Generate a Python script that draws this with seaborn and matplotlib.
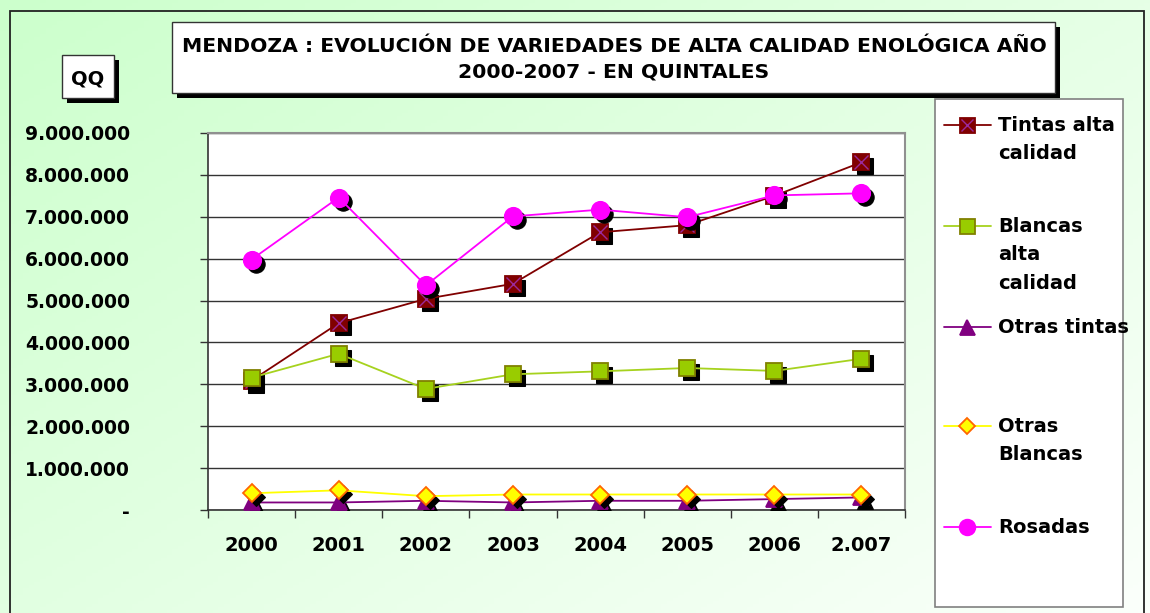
import numpy as np
import pandas as pd
import matplotlib
matplotlib.use("Agg")
import matplotlib.pyplot as plt
import matplotlib.transforms as mtransforms
from matplotlib.patches import Rectangle
from matplotlib.ticker import FuncFormatter
import seaborn as sns

# ---------------- data ----------------
years = ["2000", "2001", "2002", "2003", "2004", "2005", "2006", "2.007"]
tintas_alta = [3090000, 4460000, 5040000, 5400000, 6630000, 6800000, 7500000, 8300000]
blancas_alta = [3160000, 3730000, 2890000, 3240000, 3310000, 3390000, 3320000, 3610000]
otras_tintas = [180000, 180000, 220000, 180000, 220000, 220000, 260000, 300000]
otras_blancas = [400000, 470000, 330000, 370000, 370000, 370000, 370000, 370000]
rosadas = [5980000, 7460000, 5360000, 7010000, 7170000, 6990000, 7510000, 7560000]

series_names = ["Tintas alta calidad", "Blancas alta calidad", "Otras tintas",
                "Otras Blancas", "Rosadas"]
legend_lines = [["Tintas alta", "calidad"], ["Blancas", "alta", "calidad"],
                ["Otras tintas"], ["Otras", "Blancas"], ["Rosadas"]]
y_ticks = [0, 1000000, 2000000, 3000000, 4000000, 5000000, 6000000, 7000000, 8000000, 9000000]
title_text = "MENDOZA : EVOLUCIÓN DE VARIEDADES DE ALTA CALIDAD ENOLÓGICA AÑO\n2000-2007 - EN QUINTALES"
unit_text = "QQ"

df = pd.DataFrame({"Año": years,
                   series_names[0]: tintas_alta,
                   series_names[1]: blancas_alta,
                   series_names[2]: otras_tintas,
                   series_names[3]: otras_blancas,
                   series_names[4]: rosadas})

styles = {
    series_names[0]: dict(color="#800000", marker="s", ms=12, mfc="#800000", mec="#800000"),
    series_names[1]: dict(color="#A6D21E", marker="s", ms=12, mfc="#99CC00", mec="#808000"),
    series_names[2]: dict(color="#800080", marker="^", ms=12, mfc="#800080", mec="#800080"),
    series_names[3]: dict(color="#FFFF00", marker="D", ms=9.5, mfc="#FFFF00", mec="#FF6600"),
    series_names[4]: dict(color="#FF00FF", marker="o", ms=12.5, mfc="#FF00FF", mec="#FF00FF"),
}

# ---------------- figure ----------------
sns.set_theme(style="white")
plt.rcParams["font.family"] = ["DejaVu Sans"]
plt.rcParams["text.color"] = "black"
W, H = 1150, 613
fig = plt.figure(figsize=(W / 100, H / 100), dpi=100)

def fx(px):
    return px / W

def fy(py):
    return 1 - py / H

# background gradient
bg = fig.add_axes([0, 0, 1, 1], zorder=-10)
gx, gy = np.meshgrid(np.linspace(0, 1, 200), np.linspace(0, 1, 200))
t = np.clip(0.55 * gx + 0.45 * gy, 0, 1)
c0 = np.array([0.80, 1.0, 0.80])
c1 = np.array([0.985, 1.0, 0.985])
img = c0[None, None, :] * (1 - t[..., None]) + c1[None, None, :] * t[..., None]
bg.imshow(img, aspect="auto", extent=[0, 1, 0, 1], origin="upper")
bg.set_xlim(0, 1)
bg.set_ylim(0, 1)
bg.axis("off")
bg.add_patch(Rectangle((fx(10), fy(640)), fx(1144) - fx(10), fy(11) - fy(640),
                       fill=False, ec="#222222", lw=1.3, transform=bg.transAxes))

# title box with shadow
def shadow_box(x0, y0, x1, y1, off=5):
    bg.add_patch(Rectangle((fx(x0 + off), fy(y1 + off)), fx(x1) - fx(x0), fy(y0) - fy(y1),
                           fc="black", ec="none", transform=bg.transAxes, zorder=2))
    bg.add_patch(Rectangle((fx(x0), fy(y1)), fx(x1) - fx(x0), fy(y0) - fy(y1),
                           fc="white", ec="#333333", lw=1.0, transform=bg.transAxes, zorder=3))

shadow_box(172, 22, 1055, 93)
bg.text(fx(614), fy(59), title_text, ha="center", va="center", fontsize=14.7,
        fontweight="bold", linespacing=1.45, color="black", transform=bg.transAxes, zorder=4)
shadow_box(62, 55, 114, 98)
bg.text(fx(88), fy(79), unit_text, ha="center", va="center", fontsize=14,
        fontweight="bold", color="black", transform=bg.transAxes, zorder=4)

# legend box
bg.add_patch(Rectangle((fx(935), fy(607)), fx(1123) - fx(935), fy(99) - fy(607),
                       fc="white", ec="#808080", lw=1.2, transform=bg.transAxes, zorder=3))

# ---------------- main axes ----------------
ax = fig.add_axes([fx(208), fy(510), fx(905) - fx(208), fy(133) - fy(510)])
ax.set_facecolor("white")

shadow_tr = ax.transData + mtransforms.ScaledTranslation(4 / 100, -4 / 100, fig.dpi_scale_trans)

for i, name in enumerate(series_names):
    st = styles[name]
    z = 3 + 2 * i
    # marker shadow
    sns.lineplot(data=df, x="Año", y=name, ax=ax, color="black", marker=st["marker"],
                 markersize=st["ms"], markerfacecolor="black", markeredgecolor="black",
                 linewidth=0, transform=shadow_tr, zorder=z, legend=False)
    sns.lineplot(data=df, x="Año", y=name, ax=ax, color=st["color"], marker=st["marker"],
                 markersize=st["ms"], markerfacecolor=st["mfc"], markeredgecolor=st["mec"],
                 markeredgewidth=1.3, linewidth=1.3, zorder=z + 1, legend=False)
    if i == 0:
        sns.lineplot(data=df, x="Año", y=name, ax=ax, color="#8B1A8B", marker="x",
                     markersize=10, markeredgewidth=1.0, markeredgecolor="#9B2A9B",
                     linewidth=0, zorder=z + 1.5, legend=False)

ax.set_xlim(-0.5, len(years) - 0.5)
ax.set_ylim(0, 9000000)
ax.set_yticks(y_ticks)

def fmt(v, pos):
    if v == 0:
        return "-"
    return f"{int(round(v)):,}".replace(",", ".")

ax.yaxis.set_major_formatter(FuncFormatter(fmt))
ax.set_xticks(range(len(years)))
ax.set_xticklabels(years)
ax.set_xticks(np.arange(-0.5, len(years), 1), minor=True)
ax.tick_params(axis="x", which="major", length=0, pad=19, labelsize=14)
ax.tick_params(axis="x", which="minor", length=6, width=1, color="#333333", direction="out",
               bottom=True)
ax.tick_params(axis="y", which="major", length=6, width=1, color="#333333", direction="out",
               left=True, pad=50, labelsize=13.5)
for lab in ax.get_xticklabels() + ax.get_yticklabels():
    lab.set_fontweight("bold")
    lab.set_color("black")

ax.grid(axis="y", color="#333333", linewidth=1.0)
ax.grid(axis="x", visible=False)
ax.set_axisbelow(True)
ax.set_xlabel("")
ax.set_ylabel("")
for side in ["top", "right"]:
    ax.spines[side].set_color("#909090")
    ax.spines[side].set_linewidth(1.5)
for side in ["left", "bottom"]:
    ax.spines[side].set_color("#333333")
    ax.spines[side].set_linewidth(1.2)

# ---------------- legend ----------------
lax = fig.add_axes([fx(935), fy(607), fx(1123) - fx(935), fy(99) - fy(607)], zorder=5)
lax.set_xlim(935, 1123)
lax.set_ylim(607, 99)
lax.axis("off")
entry_y = [125, 226, 327, 426, 527]
for i, name in enumerate(series_names):
    st = styles[name]
    y0 = entry_y[i]
    lax.plot([944, 991], [y0, y0], color=st["color"], lw=1.3)
    lax.plot([967], [y0], marker=st["marker"], ms=st["ms"] * 0.9, mfc=st["mfc"],
             mec=st["mec"], mew=1.3, ls="none")
    if i == 0:
        lax.plot([967], [y0], marker="x", ms=9, mew=1.0, color="#9B2A9B", ls="none")
    for j, line in enumerate(legend_lines[i]):
        lax.text(998, y0 + j * 28.5, line, ha="left", va="center", fontsize=14,
                 fontweight="bold", color="black")

fig.savefig("out.png", dpi=100)
